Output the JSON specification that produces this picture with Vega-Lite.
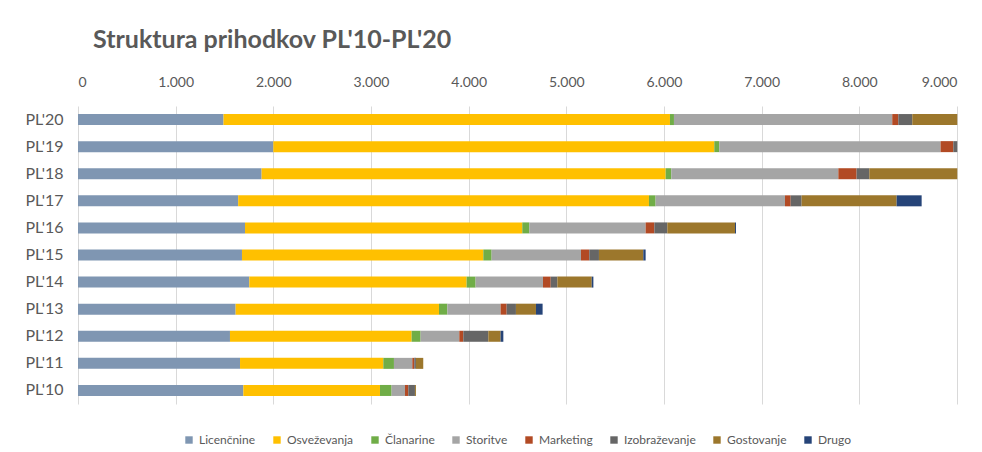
{
  "$schema": "https://vega.github.io/schema/vega-lite/v6.json",
  "autosize": {"type": "none"},
  "width": 879,
  "height": 298,
  "padding": {"left": 78, "top": 106, "right": 25, "bottom": 48},
  "background": "white",
  "title": {
    "text": "Struktura prihodkov PL'10-PL'20",
    "anchor": "start",
    "frame": "group",
    "dx": 15,
    "offset": 22,
    "font": "Lato",
    "fontSize": 25,
    "fontWeight": "bold",
    "color": "#595959"
  },
  "data": {
    "values": [
      {"leto": "PL'20", "vrsta": "Licenčnine", "r": 1, "v": 1490},
      {"leto": "PL'20", "vrsta": "Osveževanja", "r": 2, "v": 4571},
      {"leto": "PL'20", "vrsta": "Članarine", "r": 3, "v": 41},
      {"leto": "PL'20", "vrsta": "Storitve", "r": 4, "v": 2235},
      {"leto": "PL'20", "vrsta": "Marketing", "r": 5, "v": 62},
      {"leto": "PL'20", "vrsta": "Izobraževanje", "r": 6, "v": 143},
      {"leto": "PL'20", "vrsta": "Gostovanje", "r": 7, "v": 461},
      {"leto": "PL'20", "vrsta": "Drugo", "r": 8, "v": 0},
      {"leto": "PL'19", "vrsta": "Licenčnine", "r": 1, "v": 2000},
      {"leto": "PL'19", "vrsta": "Osveževanja", "r": 2, "v": 4515},
      {"leto": "PL'19", "vrsta": "Članarine", "r": 3, "v": 51},
      {"leto": "PL'19", "vrsta": "Storitve", "r": 4, "v": 2266},
      {"leto": "PL'19", "vrsta": "Marketing", "r": 5, "v": 130},
      {"leto": "PL'19", "vrsta": "Izobraževanje", "r": 6, "v": 41},
      {"leto": "PL'19", "vrsta": "Gostovanje", "r": 7, "v": 0},
      {"leto": "PL'19", "vrsta": "Drugo", "r": 8, "v": 0},
      {"leto": "PL'18", "vrsta": "Licenčnine", "r": 1, "v": 1880},
      {"leto": "PL'18", "vrsta": "Osveževanja", "r": 2, "v": 4137},
      {"leto": "PL'18", "vrsta": "Članarine", "r": 3, "v": 58},
      {"leto": "PL'18", "vrsta": "Storitve", "r": 4, "v": 1710},
      {"leto": "PL'18", "vrsta": "Marketing", "r": 5, "v": 187},
      {"leto": "PL'18", "vrsta": "Izobraževanje", "r": 6, "v": 130},
      {"leto": "PL'18", "vrsta": "Gostovanje", "r": 7, "v": 901},
      {"leto": "PL'18", "vrsta": "Drugo", "r": 8, "v": 0},
      {"leto": "PL'17", "vrsta": "Licenčnine", "r": 1, "v": 1640},
      {"leto": "PL'17", "vrsta": "Osveževanja", "r": 2, "v": 4206},
      {"leto": "PL'17", "vrsta": "Članarine", "r": 3, "v": 68},
      {"leto": "PL'17", "vrsta": "Storitve", "r": 4, "v": 1325},
      {"leto": "PL'17", "vrsta": "Marketing", "r": 5, "v": 58},
      {"leto": "PL'17", "vrsta": "Izobraževanje", "r": 6, "v": 112},
      {"leto": "PL'17", "vrsta": "Gostovanje", "r": 7, "v": 973},
      {"leto": "PL'17", "vrsta": "Drugo", "r": 8, "v": 256},
      {"leto": "PL'16", "vrsta": "Licenčnine", "r": 1, "v": 1710},
      {"leto": "PL'16", "vrsta": "Osveževanja", "r": 2, "v": 2839},
      {"leto": "PL'16", "vrsta": "Članarine", "r": 3, "v": 72},
      {"leto": "PL'16", "vrsta": "Storitve", "r": 4, "v": 1191},
      {"leto": "PL'16", "vrsta": "Marketing", "r": 5, "v": 89},
      {"leto": "PL'16", "vrsta": "Izobraževanje", "r": 6, "v": 133},
      {"leto": "PL'16", "vrsta": "Gostovanje", "r": 7, "v": 693},
      {"leto": "PL'16", "vrsta": "Drugo", "r": 8, "v": 10},
      {"leto": "PL'15", "vrsta": "Licenčnine", "r": 1, "v": 1679},
      {"leto": "PL'15", "vrsta": "Osveževanja", "r": 2, "v": 2471},
      {"leto": "PL'15", "vrsta": "Članarine", "r": 3, "v": 85},
      {"leto": "PL'15", "vrsta": "Storitve", "r": 4, "v": 915},
      {"leto": "PL'15", "vrsta": "Marketing", "r": 5, "v": 85},
      {"leto": "PL'15", "vrsta": "Izobraževanje", "r": 6, "v": 99},
      {"leto": "PL'15", "vrsta": "Gostovanje", "r": 7, "v": 454},
      {"leto": "PL'15", "vrsta": "Drugo", "r": 8, "v": 24},
      {"leto": "PL'14", "vrsta": "Licenčnine", "r": 1, "v": 1754},
      {"leto": "PL'14", "vrsta": "Osveževanja", "r": 2, "v": 2225},
      {"leto": "PL'14", "vrsta": "Članarine", "r": 3, "v": 92},
      {"leto": "PL'14", "vrsta": "Storitve", "r": 4, "v": 690},
      {"leto": "PL'14", "vrsta": "Marketing", "r": 5, "v": 79},
      {"leto": "PL'14", "vrsta": "Izobraževanje", "r": 6, "v": 68},
      {"leto": "PL'14", "vrsta": "Gostovanje", "r": 7, "v": 352},
      {"leto": "PL'14", "vrsta": "Drugo", "r": 8, "v": 17},
      {"leto": "PL'13", "vrsta": "Licenčnine", "r": 1, "v": 1614},
      {"leto": "PL'13", "vrsta": "Osveževanja", "r": 2, "v": 2082},
      {"leto": "PL'13", "vrsta": "Članarine", "r": 3, "v": 86},
      {"leto": "PL'13", "vrsta": "Storitve", "r": 4, "v": 545},
      {"leto": "PL'13", "vrsta": "Marketing", "r": 5, "v": 62},
      {"leto": "PL'13", "vrsta": "Izobraževanje", "r": 6, "v": 95},
      {"leto": "PL'13", "vrsta": "Gostovanje", "r": 7, "v": 205},
      {"leto": "PL'13", "vrsta": "Drugo", "r": 8, "v": 68},
      {"leto": "PL'12", "vrsta": "Licenčnine", "r": 1, "v": 1556},
      {"leto": "PL'12", "vrsta": "Osveževanja", "r": 2, "v": 1860},
      {"leto": "PL'12", "vrsta": "Članarine", "r": 3, "v": 92},
      {"leto": "PL'12", "vrsta": "Storitve", "r": 4, "v": 396},
      {"leto": "PL'12", "vrsta": "Marketing", "r": 5, "v": 41},
      {"leto": "PL'12", "vrsta": "Izobraževanje", "r": 6, "v": 256},
      {"leto": "PL'12", "vrsta": "Gostovanje", "r": 7, "v": 126},
      {"leto": "PL'12", "vrsta": "Drugo", "r": 8, "v": 28},
      {"leto": "PL'11", "vrsta": "Licenčnine", "r": 1, "v": 1659},
      {"leto": "PL'11", "vrsta": "Osveževanja", "r": 2, "v": 1467},
      {"leto": "PL'11", "vrsta": "Članarine", "r": 3, "v": 109},
      {"leto": "PL'11", "vrsta": "Storitve", "r": 4, "v": 188},
      {"leto": "PL'11", "vrsta": "Marketing", "r": 5, "v": 20},
      {"leto": "PL'11", "vrsta": "Izobraževanje", "r": 6, "v": 17},
      {"leto": "PL'11", "vrsta": "Gostovanje", "r": 7, "v": 75},
      {"leto": "PL'11", "vrsta": "Drugo", "r": 8, "v": 0},
      {"leto": "PL'10", "vrsta": "Licenčnine", "r": 1, "v": 1693},
      {"leto": "PL'10", "vrsta": "Osveževanja", "r": 2, "v": 1399},
      {"leto": "PL'10", "vrsta": "Članarine", "r": 3, "v": 119},
      {"leto": "PL'10", "vrsta": "Storitve", "r": 4, "v": 137},
      {"leto": "PL'10", "vrsta": "Marketing", "r": 5, "v": 34},
      {"leto": "PL'10", "vrsta": "Izobraževanje", "r": 6, "v": 68},
      {"leto": "PL'10", "vrsta": "Gostovanje", "r": 7, "v": 10},
      {"leto": "PL'10", "vrsta": "Drugo", "r": 8, "v": 0}
    ]
  },
  "mark": {"type": "bar", "size": 11},
  "encoding": {
    "y": {
      "field": "leto",
      "type": "nominal",
      "sort": "descending",
      "title": null,
      "axis": {
        "domain": false,
        "ticks": false,
        "labelPadding": 15,
        "labelFont": "Lato",
        "labelFontSize": 16,
        "labelColor": "#595959"
      }
    },
    "x": {
      "field": "v",
      "type": "quantitative",
      "stack": "zero",
      "scale": {"domain": [0, 9000], "nice": false},
      "title": null,
      "axis": {
        "orient": "top",
        "values": [0, 1000, 2000, 3000, 4000, 5000, 6000, 7000, 8000, 9000],
        "labelExpr": "replace(format(datum.value, ','), ',', '.')",
        "domain": false,
        "ticks": false,
        "labelPadding": 17,
        "labelFont": "Lato",
        "labelFontSize": 14,
        "labelColor": "#595959",
        "grid": true,
        "gridColor": "#d9d9d9"
      }
    },
    "color": {
      "field": "vrsta",
      "type": "nominal",
      "title": null,
      "scale": {
        "domain": ["Licenčnine", "Osveževanja", "Članarine", "Storitve", "Marketing", "Izobraževanje", "Gostovanje", "Drugo"],
        "range": ["#7f96b2", "#ffc000", "#70ad47", "#a5a5a5", "#b24a24", "#666666", "#9c772c", "#264478"]
      },
      "legend": {
        "orient": "bottom",
        "direction": "horizontal",
        "offset": 30,
        "symbolType": "square",
        "symbolSize": 55,
        "symbolStrokeWidth": 0,
        "labelFont": "Lato",
        "labelFontSize": 12,
        "labelColor": "#595959",
        "columnPadding": 15
      }
    },
    "order": {"field": "r", "type": "quantitative"}
  },
  "config": {
    "view": {"stroke": null},
    "legend": {"layout": {"bottom": {"anchor": "middle"}}}
  }
}
